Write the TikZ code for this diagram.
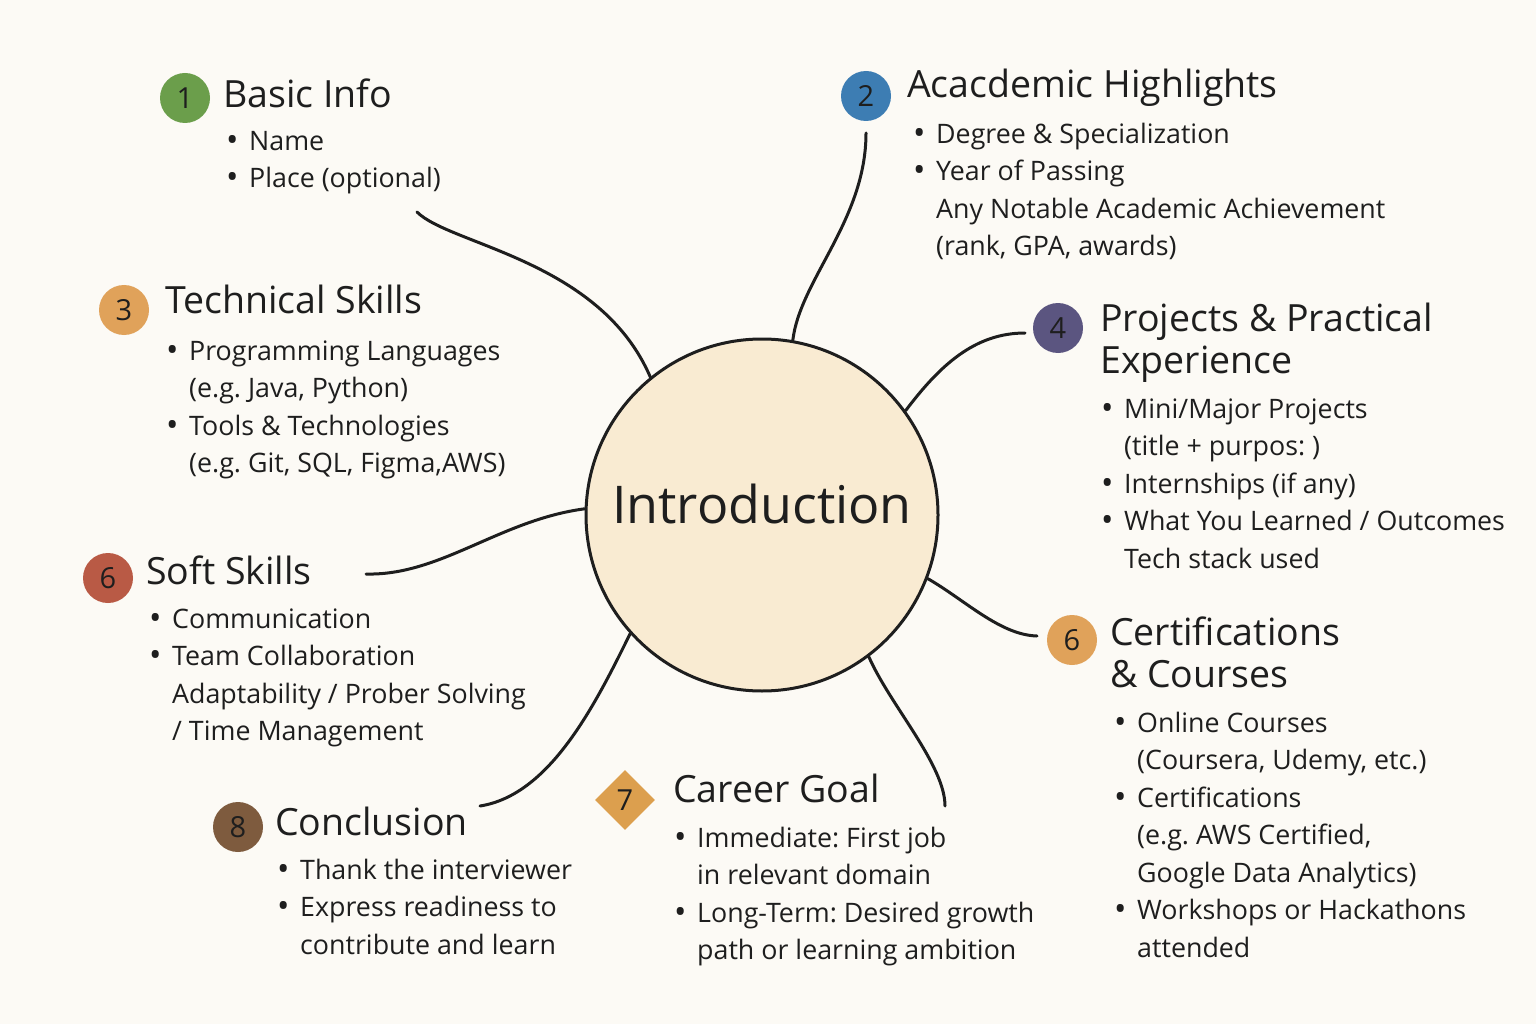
\documentclass[tikz,border=0pt]{standalone}
\usepackage{fontspec}
\setmainfont{Open Sans}
\usepackage{xcolor}
\usepackage{tikz}
\usetikzlibrary{positioning,shapes.geometric}
\definecolor{introPaper}{HTML}{FCFAF5}
\definecolor{introCream}{HTML}{F9EBD2}
\definecolor{introInk}{HTML}{1E1E1E}
\definecolor{introGreen}{HTML}{6B9E4B}
\definecolor{introBlue}{HTML}{3D7DB3}
\definecolor{introOrange}{HTML}{E0A25A}
\definecolor{introPurple}{HTML}{5B5580}
\definecolor{introRed}{HTML}{B95A45}
\definecolor{introBrown}{HTML}{7E5B3E}
\definecolor{introAmber}{HTML}{DC9F4E}
\newcommand{\bul}{\makebox[23pt][l]{\raisebox{-1pt}{\fontsize{33}{33}\selectfont\textbullet}}}
\newcommand{\ind}{\hspace*{23pt}}

\begin{document}
\frenchspacing
\begin{tikzpicture}[x=1pt, y=-1pt,
  badge/.style={circle, minimum size=50pt, inner sep=0pt, text=introInk, font=\fontsize{29}{29}\selectfont},
  heading/.style={anchor=north west, inner sep=0pt, align=left, text=introInk, font=\fontsize{37.5}{42}\selectfont},
  items/.style={anchor=north west, inner sep=0pt, align=left, text=introInk, font=\fontsize{26.8}{37.5}\selectfont},
  link/.style={line width=3pt, draw=introInk, line cap=round}]
\useasboundingbox[fill=introPaper] (0,0) rectangle (1536,1024);

\node (intro) [circle, minimum size=352pt, inner sep=0pt, text height=30pt, text depth=14pt, line width=3pt, draw=introInk, fill=introCream, text=introInk, font=\fontsize{52}{52}\selectfont] at (762,515) {Introduction};

\node (one) [badge, fill=introGreen] at (185,98) {1};
\node (basic) [heading] at (223,77.6) {\strut Basic Info};
\node (basicItems) [items] at (226,123.75) {\strut\bul Name\\ \bul Place (optional)};

\node (two) [badge, fill=introBlue] at (866,96) {2};
\node (academic) [heading] at (907,67.6) {\strut Acacdemic Highlights};
\node (academicItems) [items] at (913,116.75) {\strut\bul Degree \& Specialization\\ \bul Year of Passing\\ \ind Any Notable Academic Achievement\\ \ind (rank, GPA, awards)};

\node (three) [badge, fill=introOrange] at (124,310) {3};
\node (technical) [heading] at (165,283.6) {\strut Technical Skills};
\node (technicalItems) [items] at (166,333.75) {\strut\bul Programming Languages\\ \ind (e.g. Java, Python)\\ \bul Tools \& Technologies\\ \ind (e.g. Git, SQL, Figma,AWS)};

\node (four) [badge, fill=introPurple] at (1058,328) {4};
\node (projects) [heading] at (1100,301.6) {\strut Projects \& Practical\\ Experience};
\node (projectsItems) [items] at (1101,391.75) {\strut\bul Mini/Major Projects\\ \ind (title + purpos: )\\ \bul Internships (if any)\\ \bul What You Learned / Outcomes\\ \ind Tech stack used};

\node (sixSoft) [badge, fill=introRed] at (108,578) {6};
\node (soft) [heading] at (146,554.6) {\strut Soft Skills};
\node (softItems) [items] at (149,601.75) {\strut\bul Communication\\ \bul Team Collaboration\\ \ind Adaptability / Prober Solving\\ \ind / Time Management};

\node (sixCert) [badge, fill=introOrange] at (1072,640) {6};
\node (certs) [heading] at (1110,615.6) {\strut Certifications\\ \& Courses};
\node (certsItems) [items] at (1114,705.75) {\strut\bul Online Courses\\ \ind (Coursera, Udemy, etc.)\\ \bul Certifications\\ \ind (e.g. AWS Certified,\\ \ind Google Data Analytics)\\ \bul Workshops or Hackathons\\ \ind attended};

\node (seven) [diamond, minimum width=60pt, minimum height=60pt, inner sep=0pt, fill=introAmber, text=introInk, font=\fontsize{29}{29}\selectfont] at (625,800) {7};
\node (career) [heading] at (673,772.6) {\strut Career Goal};
\node (careerItems) [items] at (674,820.75) {\strut\bul Immediate: First job\\ \ind in relevant domain\\ \bul Long-Term: Desired growth\\ \ind path or learning ambition};

\node (eight) [badge, fill=introBrown] at (238,827) {8};
\node (conclusion) [heading] at (275,805.6) {\strut Conclusion};
\node (conclusionItems) [items] at (277,852.75) {\strut\bul Thank the interviewer\\ \bul Express readiness to\\ \ind contribute and learn};

\coordinate (basicEnd) at (417,212);
\coordinate (academicEnd) at (866,133);
\coordinate (projectsEnd) at (1025,333);
\coordinate (certsEnd) at (1037,636);
\coordinate (careerEnd) at (945,806);
\coordinate (conclusionEnd) at (480,806);
\coordinate (softEnd) at (366,574);

\draw[link] (basicEnd) .. controls (450,245) and (600,260) .. (intro.129);
\draw[link] (academicEnd) .. controls (866,220) and (800,280) .. (intro.80);
\draw[link] (projectsEnd) .. controls (975,333) and (940,365) .. (intro.36);
\draw[link] (certsEnd) .. controls (1000,635) and (965,600) .. (intro.-21);
\draw[link] (careerEnd) .. controls (945,765) and (890,705) .. (intro.-53);
\draw[link] (conclusionEnd) .. controls (550,795) and (595,705) .. (intro.-138);
\draw[link] (softEnd) .. controls (440,576) and (500,520) .. (intro.178);
\end{tikzpicture}
\end{document}
